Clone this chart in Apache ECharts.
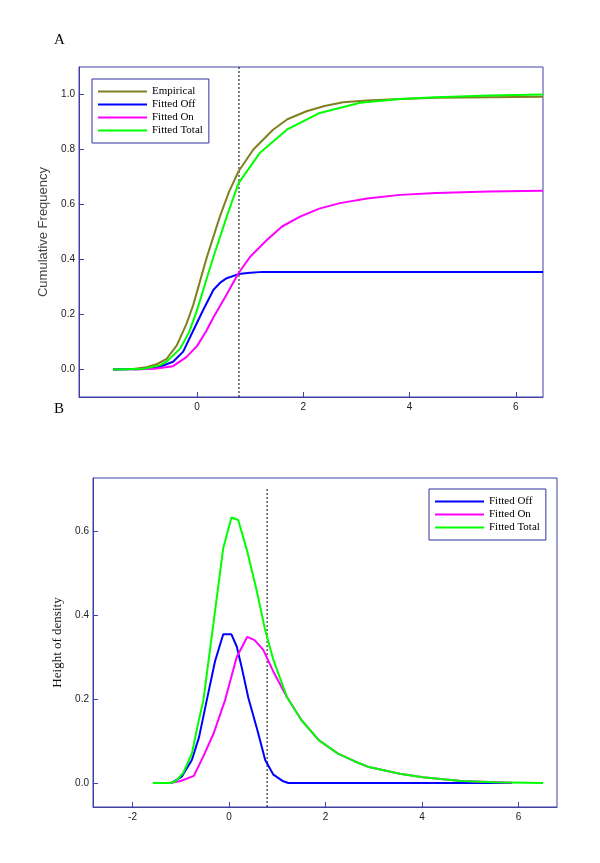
<!DOCTYPE html>
<html><head><meta charset="utf-8">
<script src="https://cdn.jsdelivr.net/npm/echarts@6/dist/echarts.min.js"></script>
<style>html,body{margin:0;padding:0;background:#fff}#c{width:600px;height:863px}</style>
</head><body><div id="c"></div>
<script>
// ---------- Panel A: cumulative frequency ----------
const aEmpX = [-1.58,-1.2,-0.95,-0.75,-0.57,-0.38,-0.2,-0.07,0.18,0.43,0.6,0.78,1.06,1.43,1.7,2.06,2.4,2.75,3.2,3.82,4.5,5.5,6.51];
const aEmpY = [0,0.002,0.008,0.02,0.039,0.088,0.165,0.235,0.405,0.556,0.645,0.72,0.80,0.872,0.91,0.939,0.958,0.972,0.978,0.984,0.988,0.99,0.992];
const aOffX = [-1.58,-1.0,-0.7,-0.45,-0.26,-0.07,0.1,0.31,0.45,0.56,0.78,1.0,1.24,6.51];
const aOffY = [0,0.002,0.01,0.028,0.065,0.142,0.21,0.29,0.318,0.332,0.347,0.352,0.355,0.355];
const aOnX  = [-1.2,-0.8,-0.45,-0.2,0,0.18,0.31,0.55,0.78,1.0,1.31,1.6,1.94,2.3,2.69,3.2,3.82,4.5,5.5,6.51];
const aOnY  = [0,0.003,0.012,0.045,0.085,0.142,0.19,0.27,0.35,0.41,0.47,0.52,0.556,0.585,0.605,0.622,0.635,0.642,0.647,0.65];
const aTotX = [-1.58,-1.0,-0.7,-0.57,-0.32,-0.15,0,0.15,0.31,0.56,0.78,1.18,1.69,2.31,3.07,3.82,4.5,5.5,6.51];
const aTotY = [0,0.003,0.015,0.029,0.075,0.135,0.215,0.31,0.41,0.556,0.677,0.787,0.872,0.933,0.97,0.984,0.99,0.996,1.0];
const aYTicks = [0,0.2,0.4,0.6,0.8,1.0];
const aXTicks = [0,2,4,6];

// ---------- Panel B: density ----------
const bOffX = [-1.2,-0.98,-0.77,-0.62,-0.46,-0.29,-0.12,0.05,0.16,0.26,0.4,0.59,0.75,0.92,1.11,1.23,5.87];
const bOffY = [0,0.015,0.055,0.11,0.198,0.29,0.354,0.354,0.325,0.277,0.203,0.125,0.055,0.02,0.005,0,0];
const bOnX  = [-1.23,-1.0,-0.73,-0.53,-0.32,-0.08,0.16,0.38,0.53,0.71,0.92,1.2,1.5,1.86,2.26,2.6,2.9,3.54,4.02,4.81,5.87];
const bOnY  = [0,0.005,0.017,0.064,0.118,0.198,0.30,0.348,0.34,0.317,0.265,0.205,0.15,0.102,0.07,0.052,0.038,0.022,0.014,0.005,0.001];
const bTotX = [-1.58,-1.22,-1.1,-0.95,-0.77,-0.64,-0.53,-0.12,0.05,0.19,0.37,0.57,0.75,0.92,1.2,1.5,1.86,2.26,2.6,2.9,3.54,4.02,4.81,5.5,6.51];
const bTotY = [0,0,0.005,0.024,0.07,0.142,0.198,0.559,0.632,0.626,0.555,0.46,0.364,0.293,0.205,0.15,0.102,0.07,0.052,0.038,0.022,0.014,0.005,0.002,0];
const bYTicks = [0,0.2,0.4,0.6];
const bXTicks = [-2,0,2,4,6];

const threshold = 0.79;
const names = ['Empirical','Fitted Off','Fitted On','Fitted Total'];
const colors = {'Empirical':'#808020','Fitted Off':'#0000ff','Fitted On':'#ff00ff','Fitted Total':'#00ff00'};

const zip = (xs, ys) => xs.map((x, i) => [x, ys[i]]);
const axisCol = '#4040a8';
const serif = '"Liberation Serif","DejaVu Serif",serif';
const sans = '"Liberation Sans",Arial,sans-serif';

function xAxis(idx, min, max, ticks) {
  return {
    type: 'value', gridIndex: idx, min: min, max: max,
    axisLine: {show: true, onZero: false, lineStyle: {color: axisCol, width: 1}},
    axisTick: {show: true, inside: true, length: 5, customValues: ticks, lineStyle: {color: axisCol}},
    axisLabel: {customValues: ticks, margin: 5, color: '#222', fontFamily: sans, fontSize: 10, formatter: v => String(v)},
    splitLine: {show: false}
  };
}
function yAxis(idx, min, max, ticks, name, nameFont, nameColor, gap) {
  return {
    type: 'value', gridIndex: idx, min: min, max: max,
    name: name, nameLocation: 'middle', nameGap: gap,
    nameTextStyle: {fontFamily: nameFont, fontSize: 13, color: nameColor},
    axisLine: {show: true, onZero: false, lineStyle: {color: axisCol, width: 1}},
    axisTick: {show: true, inside: true, length: 5, customValues: ticks, lineStyle: {color: axisCol}},
    axisLabel: {customValues: ticks, margin: 4, color: '#222', fontFamily: sans, fontSize: 10, formatter: v => v.toFixed(1)},
    splitLine: {show: false}
  };
}
function line(name, data, xi, yi) {
  return {name: name, type: 'line', xAxisIndex: xi, yAxisIndex: yi, data: data,
    showSymbol: false, symbol: 'none', smooth: false, animation: false,
    lineStyle: {color: colors[name], width: 2}, itemStyle: {color: colors[name]}};
}
function dashed(xi, yi, y0, y1) {
  return {type: 'line', xAxisIndex: xi, yAxisIndex: yi, data: [[threshold, y0], [threshold, y1]],
    showSymbol: false, symbol: 'none', animation: false, silent: true,
    lineStyle: {color: '#000', width: 1, type: [2, 2]}};
}
const legendBase = {
  orient: 'vertical', icon: 'rect', itemWidth: 49, itemHeight: 2, itemGap: 0,
  padding: [6, 6, 6, 6], borderColor: '#3030a0', borderWidth: 1, backgroundColor: '#fff',
  textStyle: {fontFamily: serif, fontSize: 11, color: '#000', lineHeight: 13}
};

const chart = echarts.init(document.getElementById('c'), null, {renderer: 'canvas'});
chart.setOption({
  animation: false,
  title: [
    {text: 'A', left: 49, top: 28, textStyle: {fontFamily: serif, fontSize: 15, fontWeight: 'normal', color: '#000'}},
    {text: 'B', left: 49, top: 397, textStyle: {fontFamily: serif, fontSize: 15, fontWeight: 'normal', color: '#000'}}
  ],
  grid: [
    {left: 79, top: 67, width: 464, height: 330, show: true, borderColor: axisCol, borderWidth: 1, backgroundColor: 'transparent'},
    {left: 93, top: 478, width: 464, height: 329, show: true, borderColor: axisCol, borderWidth: 1, backgroundColor: 'transparent'}
  ],
  xAxis: [xAxis(0, -2.22, 6.51, aXTicks), xAxis(1, -2.82, 6.80, bXTicks)],
  yAxis: [
    yAxis(0, -0.1, 1.1, aYTicks, 'Cumulative Frequency', sans, '#444', 28),
    yAxis(1, -0.057, 0.726, bYTicks, 'Height of density', serif, '#111', 27)
  ],
  legend: [
    Object.assign({}, legendBase, {left: 92, top: 79, data: names}),
    Object.assign({}, legendBase, {left: 429, top: 489, data: names.slice(1)})
  ],
  series: [
    dashed(0, 0, -0.1, 1.1),
    dashed(1, 1, -0.057, 0.70),
    line('Empirical', zip(aEmpX, aEmpY), 0, 0),
    line('Fitted Off', zip(aOffX, aOffY), 0, 0),
    line('Fitted On', zip(aOnX, aOnY), 0, 0),
    line('Fitted Total', zip(aTotX, aTotY), 0, 0),
    line('Fitted Off', zip(bOffX, bOffY), 1, 1),
    line('Fitted On', zip(bOnX, bOnY), 1, 1),
    line('Fitted Total', zip(bTotX, bTotY), 1, 1)
  ]
});
</script>
</body></html>
